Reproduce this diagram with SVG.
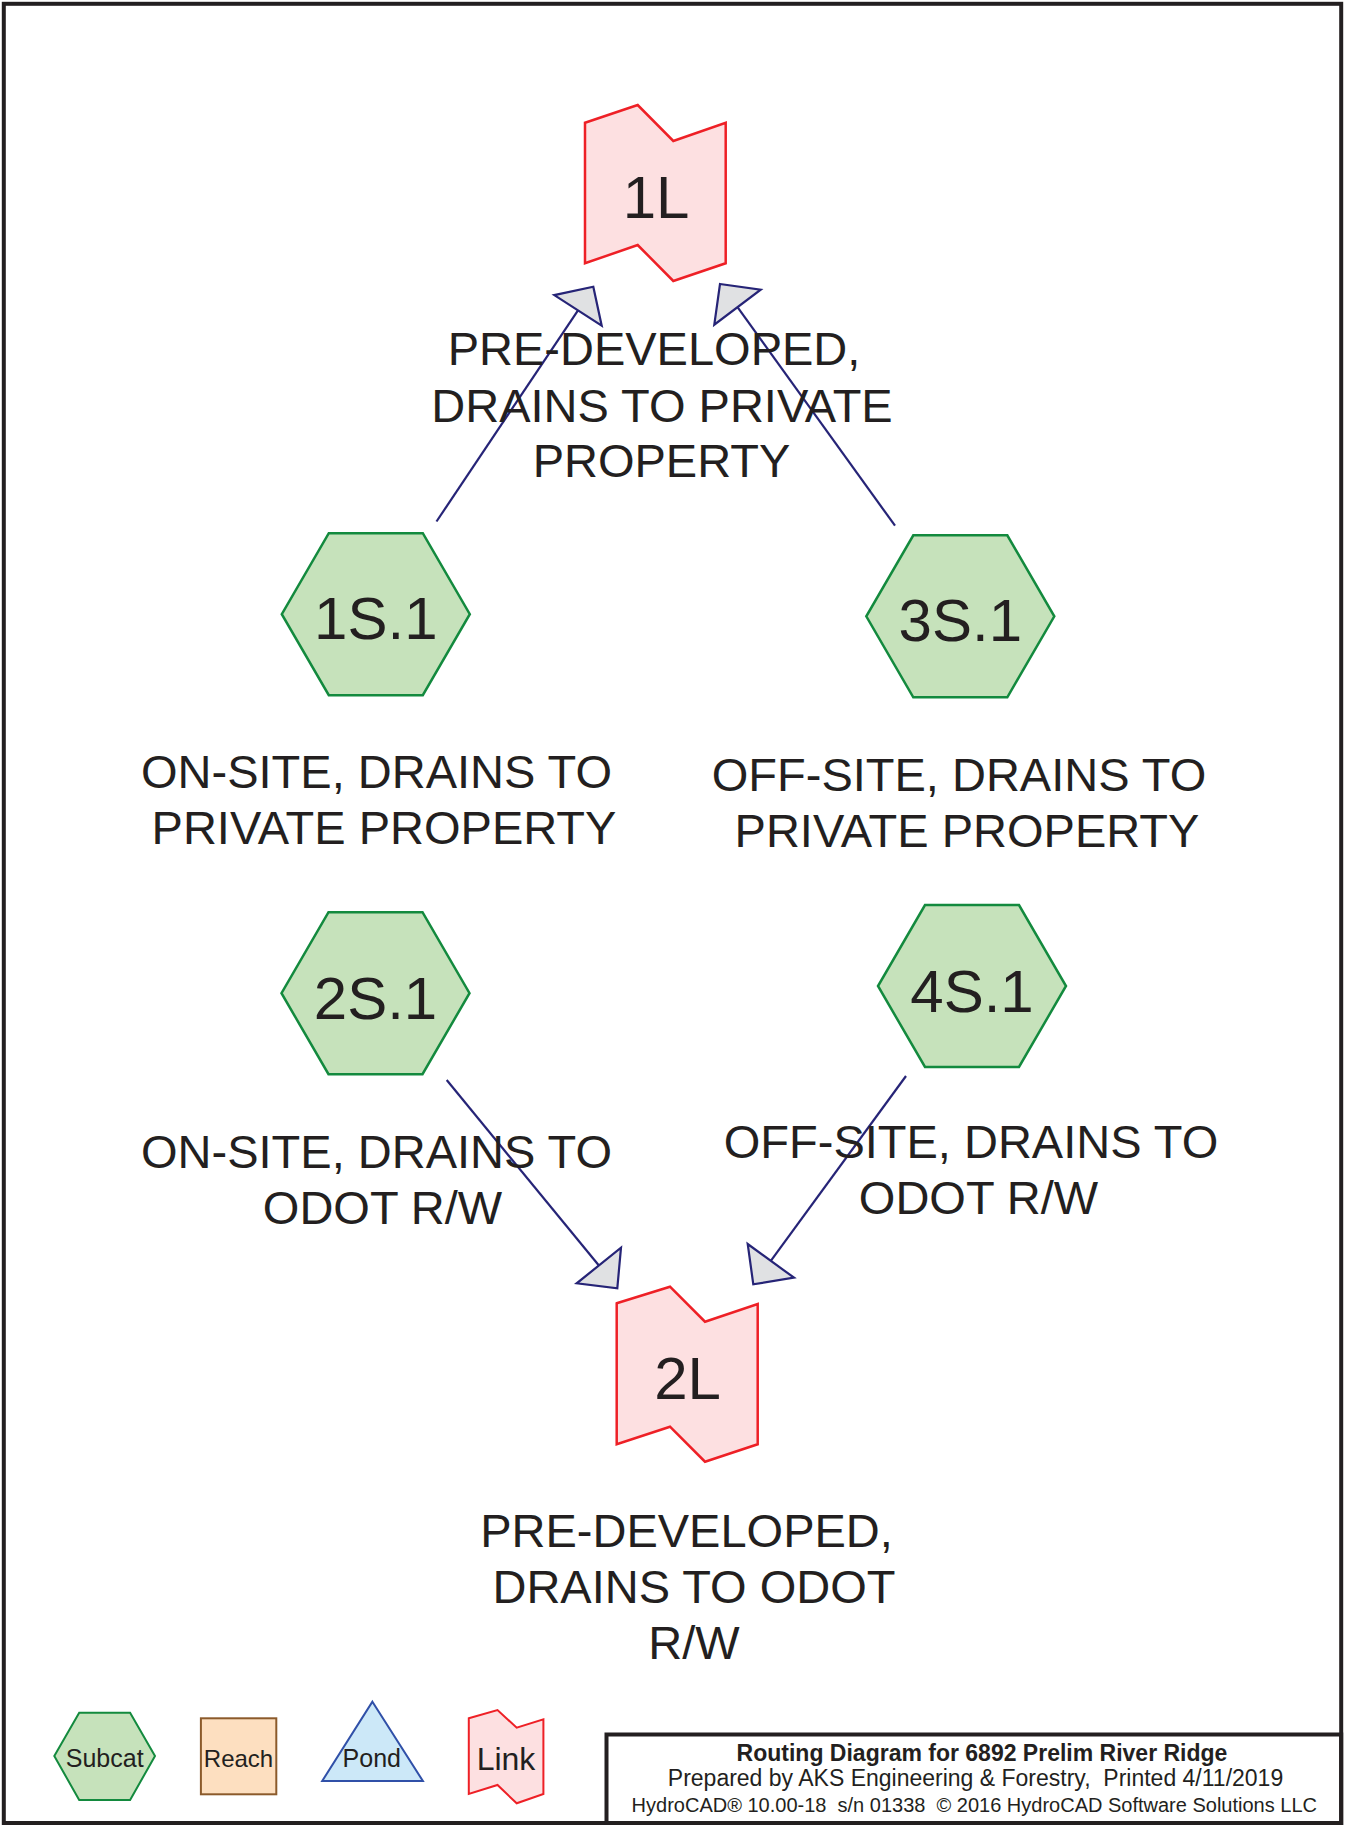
<svg xmlns="http://www.w3.org/2000/svg" width="1345" height="1825" viewBox="0 0 1345 1825">
<style>
.hex{fill:#c6e2bb;stroke:#138a3e;stroke-width:2.5;stroke-linejoin:miter}
.link{fill:#fde0e1;stroke:#ee2026;stroke-width:2.5}
.con{stroke:#262477;stroke-width:2.2;fill:none}
.ah{fill:#e0e1e3;stroke:#262477;stroke-width:2.2;stroke-linejoin:miter}
.id{font-family:"Liberation Sans",Arial,sans-serif;font-size:60px;fill:#231f20;text-anchor:middle}
.lbl{font-family:"Liberation Sans",Arial,sans-serif;font-size:47px;fill:#231f20;text-anchor:middle}
.leg{font-family:"Liberation Sans",Arial,sans-serif;font-size:25px;fill:#231f20;text-anchor:middle}
.tb{font-family:"Liberation Sans",Arial,sans-serif;fill:#231f20;text-anchor:middle}
.frame{fill:none;stroke:#231f20;stroke-width:4}
</style>
<rect x="0" y="0" width="1345" height="1825" fill="#ffffff"/>
<rect class="frame" x="3.8" y="3.8" width="1337.4" height="1819.2"/>

<g id="connectors">
  <line class="con" x1="436.5" y1="521.5" x2="578" y2="310.4"/>
  <polygon class="ah" points="593.3,286.7 601.7,325.7 554.3,295.1"/>
  <line class="con" x1="895" y1="525.7" x2="737.5" y2="307.2"/>
  <polygon class="ah" points="720,284 760.7,289.7 714.3,324.7"/>
  <line class="con" x1="446.7" y1="1080" x2="598.7" y2="1265.3"/>
  <polygon class="ah" points="617.3,1288.3 621,1247.7 576.7,1283.3"/>
  <line class="con" x1="906" y1="1076" x2="770.8" y2="1260.8"/>
  <polygon class="ah" points="753.3,1284.3 747.7,1244 794,1277.7"/>
</g>

<g id="node-1L">
  <polygon class="link" points="585,122.7 637.7,105 673.3,141 725.7,122.7 725.7,263.3 673.3,281 637.7,245 585,263.3"/>
  <text class="id" x="656" y="217.5">1L</text>
  <text class="lbl" x="654" y="365">PRE-DEVELOPED,</text>
  <text class="lbl" x="662" y="421.5">DRAINS TO PRIVATE</text>
  <text class="lbl" x="661.5" y="477">PROPERTY</text>
</g>

<g id="node-1S.1">
  <polygon class="hex" points="328.8,533.2 422.8,533.2 469.8,614.2 422.8,695.2 328.8,695.2 281.8,614.2"/>
  <text class="id" x="375.8" y="638.5">1S.1</text>
  <text class="lbl" x="376.5" y="788">ON-SITE, DRAINS TO</text>
  <text class="lbl" x="384" y="844">PRIVATE PROPERTY</text>
</g>

<g id="node-3S.1">
  <polygon class="hex" points="913.3,535.3 1007.3,535.3 1054.3,616.3 1007.3,697.3 913.3,697.3 866.3,616.3"/>
  <text class="id" x="960.3" y="640.5">3S.1</text>
  <text class="lbl" x="959" y="790.5">OFF-SITE, DRAINS TO</text>
  <text class="lbl" x="967" y="846.5">PRIVATE PROPERTY</text>
</g>

<g id="node-2S.1">
  <polygon class="hex" points="328.5,912.2 422.5,912.2 469.5,993.2 422.5,1074.2 328.5,1074.2 281.5,993.2"/>
  <text class="id" x="375.5" y="1018.5">2S.1</text>
  <text class="lbl" x="376.5" y="1168">ON-SITE, DRAINS TO</text>
  <text class="lbl" x="382.5" y="1224">ODOT R/W</text>
</g>

<g id="node-4S.1">
  <polygon class="hex" points="925,905 1019,905 1066,986 1019,1067 925,1067 878,986"/>
  <text class="id" x="972" y="1011.5">4S.1</text>
  <text class="lbl" x="971" y="1158">OFF-SITE, DRAINS TO</text>
  <text class="lbl" x="978.5" y="1214">ODOT R/W</text>
</g>

<g id="node-2L">
  <polygon class="link" points="616.7,1303.3 670,1286.7 705,1321.7 757.7,1304 757.7,1444.3 705,1461.7 670,1426.7 616.7,1444.3"/>
  <text class="id" x="687.5" y="1399">2L</text>
  <text class="lbl" x="686.5" y="1547">PRE-DEVELOPED,</text>
  <text class="lbl" x="694" y="1603">DRAINS TO ODOT</text>
  <text class="lbl" x="694" y="1659">R/W</text>
</g>

<g id="legend">
  <polygon class="hex" style="stroke-width:2" points="79.2,1712.7 130.1,1712.7 155,1756 130.1,1800 79.2,1800 54.3,1756"/>
  <text class="leg" x="104.7" y="1766.7">Subcat</text>
  <rect x="200.9" y="1718.3" width="75.4" height="76" fill="#fddfc0" stroke="#8b5a2b" stroke-width="2"/>
  <text class="leg" x="238.5" y="1766.7" style="font-size:24px">Reach</text>
  <polygon points="372.4,1701.7 422.9,1781 322.2,1781" fill="#cce8f8" stroke="#3050a8" stroke-width="2"/>
  <text class="leg" x="371.8" y="1766.7">Pond</text>
  <polygon class="link" style="stroke-width:2" points="468.8,1718.3 497.5,1710 516.7,1727.7 543.4,1719.3 543.4,1794 516.7,1803.3 497.5,1785 468.8,1794"/>
  <text class="leg" x="506" y="1770" style="font-size:32px">Link</text>
</g>

<g id="titleblock">
  <rect class="frame" x="606.5" y="1734.5" width="734.7" height="88.5"/>
  <text class="tb" x="982" y="1760.5" style="font-size:23px;font-weight:bold">Routing Diagram for 6892 Prelim River Ridge</text>
  <text class="tb" x="975.5" y="1785.5" style="font-size:23px" xml:space="preserve">Prepared by AKS Engineering &amp; Forestry,  Printed 4/11/2019</text>
  <text class="tb" x="974.3" y="1811.5" style="font-size:20px" xml:space="preserve">HydroCAD® 10.00-18  s/n 01338  © 2016 HydroCAD Software Solutions LLC</text>
</g>
</svg>
